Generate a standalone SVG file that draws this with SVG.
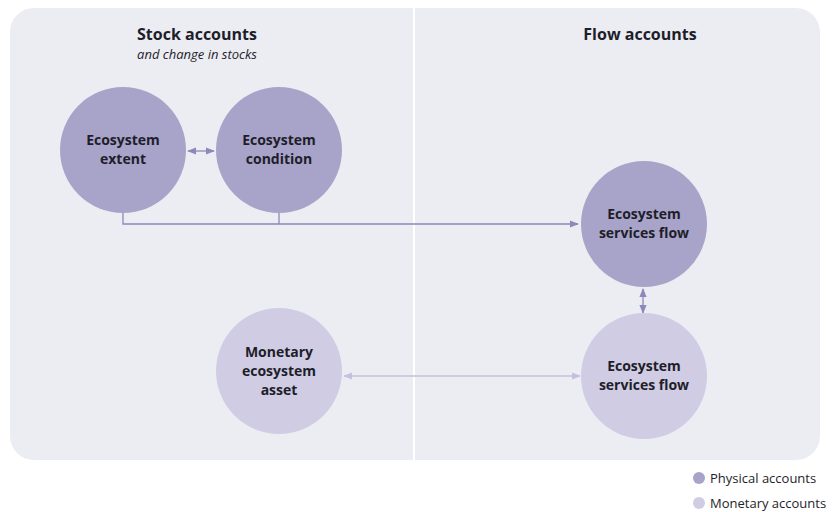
<svg xmlns="http://www.w3.org/2000/svg" width="832" height="512" viewBox="0 0 832 512">
<style>
text{font-family:"Open Sans","Liberation Sans",sans-serif;fill:#1e1e2a}
.n{font-size:14px;font-weight:bold;text-anchor:middle}
.h{font-size:16px;font-weight:bold;text-anchor:middle}
.d{fill:#a8a3c9}.l{fill:#cfcce3}
.c{stroke:#8d87bc;stroke-width:1.3;fill:none}
.cl{stroke:#c4c0de;stroke-width:1.3;fill:none}
</style>
<defs>
<marker id="a" viewBox="0 0 10 10" refX="9" refY="5" markerWidth="7" markerHeight="7" orient="auto-start-reverse"><path d="M0,1L10,5L0,9z" fill="#8d87bc"/></marker>
<marker id="b" viewBox="0 0 10 10" refX="9" refY="5" markerWidth="7" markerHeight="7" orient="auto-start-reverse"><path d="M0,1L10,5L0,9z" fill="#c4c0de"/></marker>
</defs>
<rect x="10" y="8" width="810" height="452" rx="24" fill="#ecedf3"/>
<line x1="414" y1="8" x2="414" y2="460" stroke="#fff" stroke-width="2"/>
<text class="h" x="197" y="40">Stock accounts</text>
<text x="197" y="59" font-size="13" font-style="italic" text-anchor="middle">and change in stocks</text>
<text class="h" x="640" y="40">Flow accounts</text>
<g id="connectors">
<line class="c" x1="188" y1="151" x2="214" y2="151" marker-start="url(#a)" marker-end="url(#a)"/>
<path class="c" d="M123,213V224H578" marker-end="url(#a)"/>
<path class="c" d="M279,213V224"/>
<line class="c" x1="643" y1="289" x2="643" y2="313" marker-start="url(#a)" marker-end="url(#a)"/>
<line class="cl" x1="344" y1="376" x2="580" y2="376" marker-start="url(#b)" marker-end="url(#b)"/>
</g>
<g id="extent"><circle class="d" cx="123" cy="150" r="63"/><text class="n" x="123" y="145">Ecosystem</text><text class="n" x="123" y="164">extent</text></g>
<g id="condition"><circle class="d" cx="279" cy="150" r="63"/><text class="n" x="279" y="145">Ecosystem</text><text class="n" x="279" y="164">condition</text></g>
<g id="flowphys"><circle class="d" cx="644" cy="224" r="63"/><text class="n" x="644" y="219">Ecosystem</text><text class="n" x="644" y="238">services flow</text></g>
<g id="asset"><circle class="l" cx="279" cy="371" r="63"/><text class="n" x="279" y="357">Monetary</text><text class="n" x="279" y="376">ecosystem</text><text class="n" x="279" y="395">asset</text></g>
<g id="flowmon"><circle class="l" cx="644" cy="376" r="63"/><text class="n" x="644" y="371">Ecosystem</text><text class="n" x="644" y="390">services flow</text></g>
<g id="legend">
<circle class="d" cx="699" cy="478" r="6"/><text x="710" y="483" font-size="13">Physical accounts</text>
<circle class="l" cx="699" cy="503" r="6"/><text x="710" y="508" font-size="13">Monetary accounts</text>
</g>
</svg>
